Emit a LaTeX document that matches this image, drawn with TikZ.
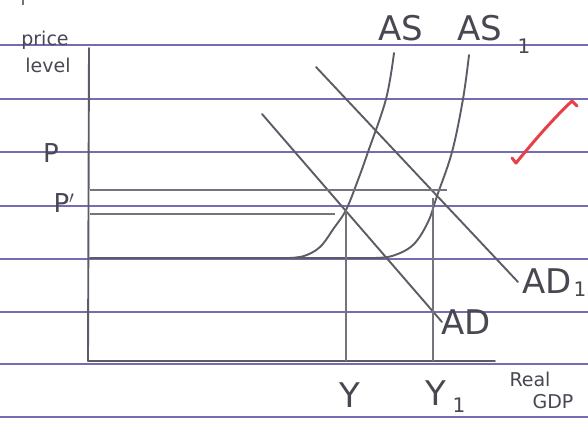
\documentclass[tikz,border=0pt]{standalone}
\usepackage{fontspec}
\setmainfont{DejaVu Sans}
\definecolor{rulec}{RGB}{118,108,178}
\definecolor{penc}{RGB}{92,92,102}
\definecolor{inkc}{RGB}{72,72,82}
\definecolor{redink}{RGB}{232,64,72}
\begin{document}
\begin{tikzpicture}[x=1pt,y=-1pt,
  rule/.style={draw=rulec,line width=1.4pt},
  pen/.style={draw=penc,line width=1.9pt,line cap=round,line join=round},
  thinpen/.style={draw=penc!85,line width=1.1pt},
  lbl/.style={text=inkc,inner sep=0pt,anchor=center},
  big/.style={lbl,font=\fontsize{34}{34}\selectfont},
  mid/.style={lbl,font=\fontsize{26}{26}\selectfont},
  sub/.style={lbl,font=\fontsize{20}{20}\selectfont},
  small/.style={lbl,font=\fontsize{19}{19}\selectfont}]
\useasboundingbox (0,0) rectangle (588,425);
\fill[white] (0,0) rectangle (588,425);
\foreach \y in {45,99,152,206,259,312,364,417}
  \draw[rule] (0,\y) -- (588,\y);
% stray mark top left
\draw[thinpen] (23,0) -- (23,5);
% axes
\coordinate (ytop) at (89,48);
\coordinate (O) at (88,361);
\coordinate (xend) at (495,361);
\draw[pen] (ytop) -- (O) -- (xend);
% equilibrium points
\coordinate (E0) at (346,210);
\coordinate (E1) at (437,196);
% floor of AS
\coordinate (f0) at (90,258);
\coordinate (f1) at (382,258);
\draw[pen] (f0) -- (f1);
% AS
\draw[pen] plot[smooth,tension=0.6] coordinates {(288,258) (304,256) (320,247) (334,228) (346,210) (358,180) (368,152) (386,99) (394,53)};
% AS1
\draw[pen] plot[smooth,tension=0.6] coordinates {(372,258) (392,256) (413,245) (428,222) (437,196) (452,152) (463,99) (469,55)};
% AD
\coordinate (ad0) at (262,114);
\coordinate (ad1) at (442,322);
\draw[pen] (ad0) -- (ad1);
% AD1
\coordinate (adb0) at (316,67);
\coordinate (adb1) at (518,282);
\draw[pen] (adb0) -- (adb1);
% price lines
\coordinate (Py) at (90,190);
\coordinate (Pe) at (447,190);
\draw[thinpen] (Py) -- (Pe);
\coordinate (Ppy) at (90,214);
\coordinate (Ppe) at (335,214);
\draw[thinpen] (Ppy) -- (Ppe);
% verticals
\coordinate (Yb) at (346,361);
\coordinate (Y1t) at (433,198);
\coordinate (Y1b) at (433,361);
\draw[thinpen] (E0) -- (Yb);
\draw[thinpen] (Y1t) -- (Y1b);
% labels
\node[small] (lprice) at (45,40) {price};
\node[small] (llevel) at (48,65) {level};
\node[mid] (lP) at (51,153) {P};
\node[mid] (lPp) at (64,203) {P$'$};
\node[big] (lAS) at (401,28) {AS};
\node[big] (lAS1) at (480,28) {AS};
\node[sub] (lAS1s) at (524,46) {1};
\node[big] (lAD1) at (547,281) {AD};
\node[sub] (lAD1s) at (580,289) {1};
\node[big] (lAD) at (466,322) {AD};
\node[big] (lY) at (350,395) {Y};
\node[big] (lY1) at (436,393) {Y};
\node[sub] (lY1s) at (459,405) {1};
\node[small] (lreal) at (530,379) {Real};
\node[small] (lgdp) at (553,402) {GDP};
% red tick
\draw[draw=redink,line width=3pt,line cap=round,line join=round] (512,158) -- (516,163) .. controls (538,136) and (556,116) .. (572,101) -- (577,106);
\end{tikzpicture}
\end{document}
